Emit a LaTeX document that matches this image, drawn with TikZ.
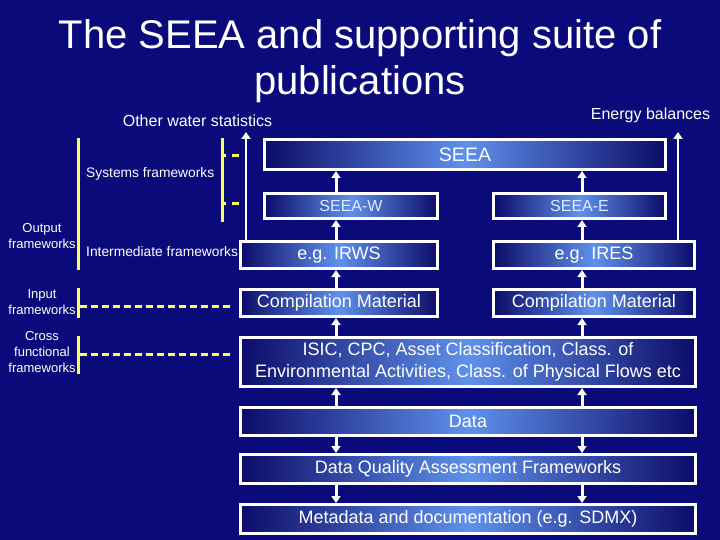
\documentclass[tikz,border=0pt]{standalone}
\usepackage{fontspec}
\setmainfont{Liberation Sans}
\usetikzlibrary{arrows.meta}
\definecolor{bgnavy}{RGB}{10,10,122}
\definecolor{boxedge}{RGB}{12,12,105}
\definecolor{boxmid}{RGB}{95,145,235}
\definecolor{yel}{RGB}{255,255,90}
\definecolor{paletxt}{RGB}{225,235,255}
\tikzset{
 box/.style={draw=white, line width=3pt, left color=boxedge, right color=boxedge, middle color=boxmid, text=white, inner sep=0pt, align=center},
 arr/.style={draw=white, line width=3pt, -{Triangle[width=9pt,length=7pt]}},
 ybar/.style={draw=yel, line width=3pt},
 ydash/.style={draw=yel, line width=3pt, dash pattern=on 7pt off 4pt},
 side/.style={text=white, font=\fontsize{13}{16}\selectfont, inner sep=0pt, align=center},
 side2/.style={text=white, font=\fontsize{13.8}{16}\selectfont, inner sep=0pt, anchor=west},
 lbl/.style={text=white, font=\fontsize{16}{18}\selectfont, inner sep=0pt},
 f18/.style={font=\fontsize{18}{22}\selectfont},
}
\begin{document}
\begin{tikzpicture}[x=1pt,y=-1pt]
\fill[bgnavy] (0,0) rectangle (720,540);
\useasboundingbox (0,0) rectangle (720,540);
\node[text=white, font=\fontsize{40}{46}\selectfont, align=center, inner sep=0pt] (title) at (360,61) {The SEEA and supporting suite of\\publications};

% boxes
\node[box, minimum width=401pt, minimum height=30pt, font=\fontsize{19.5}{22}\selectfont] (seea) at (465,154.5) {SEEA};
\node[box, minimum width=173pt, minimum height=25pt, font=\fontsize{16}{19}\selectfont, text=paletxt] (seeaw) at (351,206) {SEEA-W};
\node[box, minimum width=172pt, minimum height=25pt, font=\fontsize{16}{19}\selectfont, text=paletxt] (seeae) at (579.5,206) {SEEA-E};
\node[box, f18, minimum width=197pt, minimum height=27pt] (irws) at (339,255) {e.g. IRWS};
\node[box, f18, minimum width=201pt, minimum height=27pt] (ires) at (594,255) {e.g. IRES};
\node[box, f18, minimum width=197pt, minimum height=27pt] (compl) at (339,303) {Compilation Material};
\node[box, f18, minimum width=201pt, minimum height=27pt] (compr) at (594,303) {Compilation Material};
\node[box, minimum width=455pt, minimum height=49pt, font=\fontsize{18}{22}\selectfont] (isic) at (468,362) {ISIC, CPC, Asset Classification, Class. of\\Environmental Activities, Class. of Physical Flows etc};
\node[box, f18, minimum width=455pt, minimum height=28pt] (data) at (468,421.5) {Data};
\node[box, f18, minimum width=455pt, minimum height=29pt] (dqaf) at (468,469) {Data Quality Assessment Frameworks};
\node[box, f18, minimum width=455pt, minimum height=29pt] (meta) at (468,519) {Metadata and documentation (e.g. SDMX)};

% columns
\coordinate (colL) at (336,0);
\coordinate (colR) at (582,0);

\draw[arr] (seeaw.north -| colL) -- (seea.south -| colL);
\draw[arr] (seeae.north -| colR) -- (seea.south -| colR);
\draw[arr] (irws.north -| colL) -- (seeaw.south -| colL);
\draw[arr] (ires.north -| colR) -- (seeae.south -| colR);
\draw[arr] (compl.north -| colL) -- (irws.south -| colL);
\draw[arr] (compr.north -| colR) -- (ires.south -| colR);
\draw[arr] (isic.north -| colL) -- (compl.south -| colL);
\draw[arr] (isic.north -| colR) -- (compr.south -| colR);
\draw[arr] (data.north -| colL) -- (isic.south -| colL);
\draw[arr] (data.north -| colR) -- (isic.south -| colR);
\draw[arr] (data.south -| colL) -- (dqaf.north -| colL);
\draw[arr] (data.south -| colR) -- (dqaf.north -| colR);
\draw[arr] (dqaf.south -| colL) -- (meta.north -| colL);
\draw[arr] (dqaf.south -| colR) -- (meta.north -| colR);

% long arrows
\coordinate (owsend) at (246,132);
\coordinate (ebend) at (678,132);
\draw[arr, line width=2.5pt] (irws.north -| owsend) -- (owsend);
\draw[arr, line width=2.5pt] (ires.north -| ebend) -- (ebend);
\node[lbl] (ows) at (197.5,121) {Other water statistics};
\node[lbl] (eb) at (650.5,115) {Energy balances};

% yellow brackets
\coordinate (outT) at (78,138);
\coordinate (outB) at (78,270);
\draw[ybar] (outT) -- (outB);
\coordinate (sysT) at (222,138);
\coordinate (sysB) at (222,222);
\draw[ybar] (sysT) -- (sysB);
\coordinate (s1) at (222,156);
\coordinate (s1e) at (239,156);
\coordinate (s2) at (222,204);
\coordinate (s2e) at (239,204);
\draw[draw=yel, line width=3pt, dash pattern=on 4pt off 6pt on 7pt off 20pt] (s1) -- (s1e);
\draw[draw=yel, line width=3pt, dash pattern=on 4pt off 6pt on 7pt off 20pt] (s2) -- (s2e);

\coordinate (inT) at (78.5,288);
\coordinate (inB) at (78.5,318);
\draw[ybar] (inT) -- (inB);
\coordinate (inD) at (80,306);
\coordinate (inDe) at (233,306);
\draw[ydash] (inD) -- (inDe);

\coordinate (crT) at (78.5,336);
\coordinate (crB) at (78.5,374);
\draw[ybar] (crT) -- (crB);
\coordinate (crD) at (80,354);
\coordinate (crDe) at (233,354);
\draw[ydash] (crD) -- (crDe);

% side labels
\node[side] (outl) at (42,236) {Output\\frameworks};
\node[side2] (sysl) at (86,174) {Systems frameworks};
\node[side2] (intl) at (86,252) {Intermediate frameworks};
\node[side] (inl) at (42,302) {Input\\frameworks};
\node[side] (crl) at (42,352.5) {Cross\\functional\\frameworks};
\end{tikzpicture}
\end{document}
